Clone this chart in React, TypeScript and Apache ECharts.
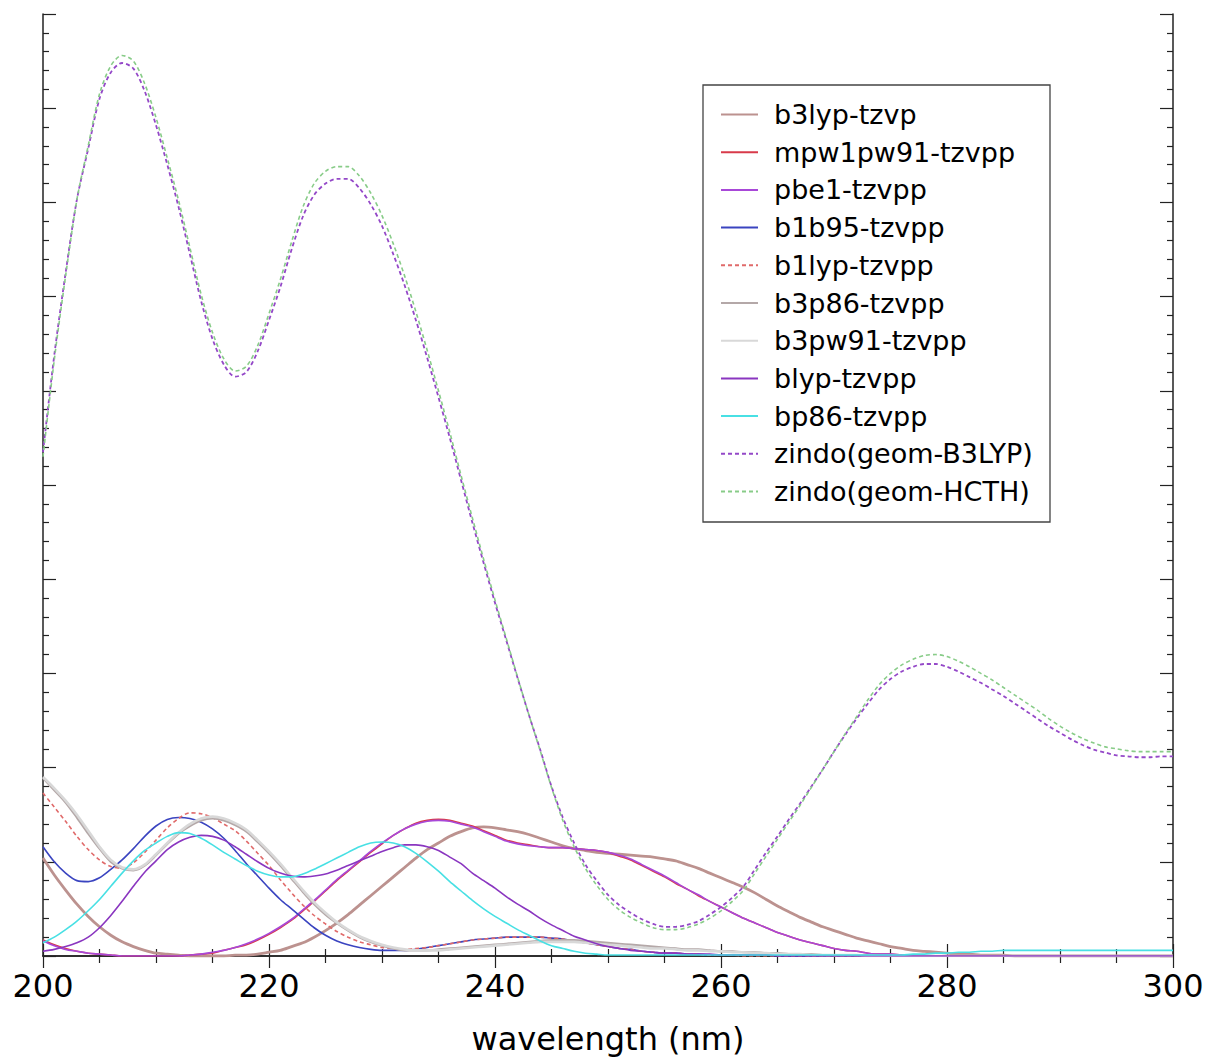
import React, { useEffect, useRef } from "react";
import * as echarts from "echarts";

// wavelength grid (nm), 1 nm step
const wavelengths: number[] = Array.from({ length: 101 }, (_, i) => 200 + i);

const seriesNames = [
  "b3lyp-tzvp",
  "mpw1pw91-tzvpp",
  "pbe1-tzvpp",
  "b1b95-tzvpp",
  "b1lyp-tzvpp",
  "b3p86-tzvpp",
  "b3pw91-tzvpp",
  "blyp-tzvpp",
  "bp86-tzvpp",
  "zindo(geom-B3LYP)",
  "zindo(geom-HCTH)",
];

const b3lypTzvp = [
  1.04, 0.86, 0.7, 0.55, 0.42, 0.31, 0.22, 0.15, 0.1, 0.06,
  0.03, 0.02, 0.01, 0, 0, 0, 0, 0.01, 0.01, 0.02,
  0.04, 0.06, 0.1, 0.14, 0.2, 0.27, 0.35, 0.44, 0.54, 0.64,
  0.74, 0.84, 0.94, 1.04, 1.13, 1.2, 1.27, 1.32, 1.36, 1.37,
  1.36, 1.34, 1.32, 1.29, 1.25, 1.21, 1.17, 1.14, 1.12, 1.1,
  1.09, 1.08, 1.07, 1.06, 1.05, 1.03, 1.01, 0.97, 0.93, 0.88,
  0.83, 0.78, 0.73, 0.67, 0.6, 0.53, 0.47, 0.41, 0.36, 0.31,
  0.27, 0.23, 0.19, 0.16, 0.13, 0.1, 0.08, 0.06, 0.05, 0.04,
  0.03, 0.02, 0.02, 0.01, 0.01, 0.01, 0, 0, 0, 0,
  0, 0, 0, 0, 0, 0, 0, 0, 0, 0,
  0,
];

const mpw1pw91Tzvpp = [
  0.17, 0.12, 0.08, 0.05, 0.03, 0.02, 0.01, 0, 0, 0,
  0, 0, 0, 0.01, 0.02, 0.03, 0.06, 0.09, 0.12, 0.17,
  0.23, 0.3, 0.38, 0.48, 0.58, 0.69, 0.8, 0.9, 1.0, 1.1,
  1.19, 1.28, 1.35, 1.41, 1.44, 1.45, 1.44, 1.41, 1.38, 1.33,
  1.28, 1.23, 1.2, 1.18, 1.16, 1.15, 1.15, 1.14, 1.13, 1.12,
  1.1, 1.06, 1.02, 0.96, 0.9, 0.84, 0.77, 0.71, 0.64, 0.58,
  0.52, 0.46, 0.4, 0.35, 0.3, 0.25, 0.21, 0.17, 0.14, 0.11,
  0.08, 0.06, 0.05, 0.03, 0.02, 0.02, 0.01, 0.01, 0, 0,
  0, 0, 0, 0, 0, 0, 0, 0, 0, 0,
  0, 0, 0, 0, 0, 0, 0, 0, 0, 0,
  0,
];

const pbe1Tzvpp = [
  0.16, 0.11, 0.07, 0.05, 0.03, 0.02, 0.01, 0, 0, 0,
  0, 0, 0, 0.01, 0.02, 0.04, 0.06, 0.09, 0.13, 0.18,
  0.24, 0.31, 0.39, 0.49, 0.59, 0.7, 0.81, 0.91, 1.01, 1.11,
  1.2, 1.28, 1.35, 1.4, 1.43, 1.44, 1.43, 1.4, 1.37, 1.32,
  1.27, 1.22, 1.19, 1.17, 1.16, 1.15, 1.15, 1.14, 1.13, 1.12,
  1.1, 1.07, 1.03, 0.97, 0.91, 0.85, 0.78, 0.71, 0.65, 0.58,
  0.52, 0.46, 0.4, 0.35, 0.3, 0.25, 0.21, 0.17, 0.14, 0.11,
  0.08, 0.06, 0.05, 0.03, 0.02, 0.02, 0.01, 0.01, 0, 0,
  0, 0, 0, 0, 0, 0, 0, 0, 0, 0,
  0, 0, 0, 0, 0, 0, 0, 0, 0, 0,
  0,
];

const b1b95Tzvpp = [
  1.16, 1.0, 0.88, 0.8, 0.79, 0.83, 0.92, 1.02, 1.14, 1.27,
  1.38, 1.45, 1.47, 1.46, 1.42, 1.35, 1.25, 1.12, 0.98, 0.85,
  0.72, 0.6, 0.5, 0.4, 0.3, 0.22, 0.16, 0.12, 0.09, 0.07,
  0.06, 0.06, 0.06, 0.07, 0.09, 0.11, 0.13, 0.15, 0.17, 0.18,
  0.19, 0.2, 0.2, 0.2, 0.2, 0.19, 0.18, 0.16, 0.14, 0.12,
  0.1, 0.08, 0.07, 0.05, 0.04, 0.03, 0.03, 0.02, 0.02, 0.01,
  0.01, 0.01, 0.01, 0.01, 0.01, 0, 0, 0, 0, 0,
  0, 0, 0, 0, 0, 0, 0, 0, 0, 0,
  0, 0, 0, 0, 0, 0, 0, 0, 0, 0,
  0, 0, 0, 0, 0, 0, 0, 0, 0, 0,
  0,
];

const b1lypTzvpp = [
  1.73, 1.58, 1.43, 1.27, 1.13, 1.02, 0.95, 0.93, 0.99, 1.1,
  1.23, 1.36, 1.46, 1.52, 1.51, 1.47, 1.4, 1.33, 1.22, 1.09,
  0.96, 0.81, 0.67, 0.54, 0.43, 0.34, 0.26, 0.2, 0.15, 0.12,
  0.09, 0.08, 0.07, 0.08, 0.09, 0.11, 0.13, 0.15, 0.17, 0.18,
  0.19, 0.2, 0.2, 0.2, 0.2, 0.19, 0.18, 0.16, 0.14, 0.12,
  0.1, 0.08, 0.07, 0.05, 0.04, 0.03, 0.03, 0.02, 0.02, 0.01,
  0.01, 0.01, 0, 0, 0, 0, 0, 0, 0, 0,
  0, 0, 0, 0, 0, 0, 0, 0, 0, 0,
  0, 0, 0, 0, 0, 0, 0, 0, 0, 0,
  0, 0, 0, 0, 0, 0, 0, 0, 0, 0,
  0,
];

const b3p86Tzvpp = [
  1.89, 1.76, 1.63, 1.47, 1.3, 1.14, 1.0, 0.93, 0.91, 0.96,
  1.07, 1.19, 1.3, 1.38, 1.44, 1.46, 1.44, 1.39, 1.32, 1.21,
  1.09, 0.96, 0.82, 0.68, 0.55, 0.44, 0.35, 0.27, 0.2, 0.15,
  0.11, 0.08, 0.06, 0.06, 0.06, 0.07, 0.08, 0.09, 0.1, 0.11,
  0.12, 0.13, 0.14, 0.15, 0.16, 0.17, 0.17, 0.17, 0.16, 0.15,
  0.14, 0.13, 0.12, 0.11, 0.1, 0.09, 0.08, 0.07, 0.07, 0.06,
  0.05, 0.05, 0.04, 0.04, 0.03, 0.03, 0.02, 0.02, 0.02, 0.01,
  0.01, 0.01, 0.01, 0.01, 0, 0, 0, 0, 0, 0,
  0, 0, 0, 0, 0, 0, 0, 0, 0, 0,
  0, 0, 0, 0, 0, 0, 0, 0, 0, 0,
  0,
];

const b3pw91Tzvpp = [
  1.9, 1.78, 1.65, 1.5, 1.33, 1.16, 1.02, 0.94, 0.92, 0.97,
  1.08, 1.2, 1.31, 1.4, 1.46, 1.48, 1.46, 1.41, 1.34, 1.23,
  1.11, 0.98, 0.84, 0.7, 0.57, 0.46, 0.36, 0.28, 0.21, 0.16,
  0.12, 0.09, 0.07, 0.06, 0.06, 0.06, 0.07, 0.08, 0.09, 0.1,
  0.11, 0.12, 0.13, 0.14, 0.15, 0.15, 0.15, 0.15, 0.14, 0.13,
  0.12, 0.11, 0.1, 0.09, 0.08, 0.08, 0.07, 0.06, 0.06, 0.05,
  0.05, 0.04, 0.04, 0.03, 0.03, 0.02, 0.02, 0.02, 0.01, 0.01,
  0.01, 0.01, 0.01, 0, 0, 0, 0, 0, 0, 0,
  0, 0, 0, 0, 0, 0, 0, 0, 0, 0,
  0, 0, 0, 0, 0, 0, 0, 0, 0, 0,
  0,
];

const blypTzvpp = [
  0.05, 0.07, 0.1, 0.14, 0.2, 0.3, 0.43, 0.58, 0.74, 0.89,
  1.01, 1.13, 1.21, 1.26, 1.28, 1.27, 1.23, 1.16, 1.08, 1.0,
  0.93, 0.88, 0.85, 0.84, 0.85, 0.87, 0.91, 0.96, 1.01, 1.06,
  1.11, 1.15, 1.18, 1.18, 1.16, 1.12, 1.05, 0.98, 0.88, 0.8,
  0.72, 0.63, 0.55, 0.48, 0.4, 0.33, 0.27, 0.21, 0.17, 0.13,
  0.1, 0.08, 0.06, 0.05, 0.04, 0.03, 0.03, 0.02, 0.02, 0.02,
  0.01, 0.01, 0.01, 0.01, 0.01, 0, 0, 0, 0, 0,
  0, 0, 0, 0, 0, 0, 0, 0, 0, 0,
  0, 0, 0, 0, 0, 0, 0, 0, 0, 0,
  0, 0, 0, 0, 0, 0, 0, 0, 0, 0,
  0,
];

const bp86Tzvpp = [
  0.14, 0.2, 0.28, 0.37, 0.48, 0.6, 0.74, 0.88, 1.01, 1.12,
  1.2, 1.27, 1.31, 1.3, 1.25, 1.18, 1.1, 1.03, 0.96, 0.9,
  0.86, 0.84, 0.84, 0.87, 0.92, 0.98, 1.04, 1.1, 1.16, 1.2,
  1.21, 1.2, 1.16, 1.09, 1.0, 0.9, 0.79, 0.69, 0.59, 0.5,
  0.42, 0.35, 0.28, 0.22, 0.16, 0.11, 0.08, 0.05, 0.03, 0.02,
  0.01, 0.01, 0.01, 0.01, 0.01, 0.01, 0.01, 0.01, 0.01, 0.01,
  0.01, 0.01, 0.01, 0.01, 0.01, 0.01, 0.01, 0.01, 0.01, 0.01,
  0.01, 0.01, 0.01, 0.01, 0.01, 0.01, 0.01, 0.02, 0.02, 0.03,
  0.03, 0.04, 0.04, 0.05, 0.05, 0.06, 0.06, 0.06, 0.06, 0.06,
  0.06, 0.06, 0.06, 0.06, 0.06, 0.06, 0.06, 0.06, 0.06, 0.06,
  0.06,
];

const zindoB3lyp = [
  5.35, 6.38, 7.25, 8.03, 8.57, 9.1, 9.38, 9.48, 9.42, 9.18,
  8.82, 8.4, 7.95, 7.45, 6.95, 6.55, 6.28, 6.15, 6.2, 6.42,
  6.75, 7.1, 7.5, 7.85, 8.08, 8.2, 8.25, 8.25, 8.15, 7.98,
  7.75, 7.45, 7.12, 6.75, 6.35, 5.93, 5.5, 5.05, 4.6, 4.17,
  3.75, 3.35, 2.95, 2.56, 2.19, 1.8, 1.47, 1.2, 0.97, 0.8,
  0.65, 0.54, 0.46, 0.39, 0.34, 0.31, 0.31, 0.33, 0.37, 0.44,
  0.52, 0.62, 0.74, 0.92, 1.1, 1.27, 1.45, 1.62, 1.8, 1.98,
  2.17, 2.35, 2.52, 2.68, 2.83, 2.94, 3.02, 3.07, 3.1, 3.1,
  3.07, 3.02, 2.96, 2.9, 2.83, 2.76, 2.68, 2.6, 2.52, 2.44,
  2.37, 2.3, 2.24, 2.19, 2.16, 2.13, 2.12, 2.11, 2.11, 2.12,
  2.12,
];

const zindoHcth = [
  5.3, 6.33, 7.22, 8.03, 8.6, 9.15, 9.45, 9.56, 9.5, 9.26,
  8.9, 8.47, 8.02, 7.52, 7.02, 6.62, 6.34, 6.21, 6.26, 6.48,
  6.82, 7.18, 7.58, 7.95, 8.2, 8.33, 8.38, 8.38, 8.28, 8.1,
  7.86, 7.56, 7.22, 6.84, 6.43, 6.0, 5.56, 5.1, 4.65, 4.21,
  3.78, 3.37, 2.96, 2.56, 2.18, 1.79, 1.44, 1.16, 0.93, 0.75,
  0.6, 0.49, 0.41, 0.35, 0.3, 0.28, 0.28, 0.3, 0.34, 0.4,
  0.48, 0.58, 0.7, 0.88, 1.06, 1.24, 1.42, 1.6, 1.79, 1.98,
  2.17, 2.36, 2.54, 2.72, 2.88, 3.0, 3.09, 3.15, 3.19, 3.2,
  3.18, 3.13, 3.07, 3.0, 2.93, 2.85, 2.77, 2.69, 2.61, 2.52,
  2.44, 2.37, 2.31, 2.26, 2.22, 2.2, 2.18, 2.17, 2.17, 2.17,
  2.17,
];

const xTicks = [200, 220, 240, 260, 280, 300];

const seriesValues = [
  b3lypTzvp,
  mpw1pw91Tzvpp,
  pbe1Tzvpp,
  b1b95Tzvpp,
  b1lypTzvpp,
  b3p86Tzvpp,
  b3pw91Tzvpp,
  blypTzvpp,
  bp86Tzvpp,
  zindoB3lyp,
  zindoHcth,
];

const seriesStyles = [
  { color: "#bc928f", width: 2.8, type: "solid" },
  { color: "#d83a4a", width: 1.6, type: "solid" },
  { color: "#a848d8", width: 1.6, type: "solid" },
  { color: "#3a44c0", width: 1.6, type: "solid" },
  { color: "#e06a6a", width: 1.6, type: [4, 3] },
  { color: "#b4a8a8", width: 2.2, type: "solid" },
  { color: "#d8d8d8", width: 2.6, type: "solid" },
  { color: "#8a36c0", width: 1.6, type: "solid" },
  { color: "#48e0e4", width: 1.6, type: "solid" },
  { color: "#9448c8", width: 1.8, type: [4, 3] },
  { color: "#88cc88", width: 1.6, type: [4, 3] },
];

const FONT = "DejaVu Sans";

export default function App() {
  const ref = useRef<HTMLDivElement>(null);
  useEffect(() => {
    if (!ref.current) return;
    const chart = echarts.init(ref.current, undefined, { renderer: "svg" });
    const axisLineStyle = { color: "#222", width: 1.5 };
    const tickStyle = { color: "#222", width: 1.2 };
    const series = seriesNames.map((name, i) => ({
      name,
      type: "line",
      data: wavelengths.map((w, j) => [w, seriesValues[i][j]]),
      showSymbol: false,
      symbol: "none",
      smooth: 0.3,
      clip: true,
      z: i >= 9 ? 3 : 2,
      lineStyle: {
        color: seriesStyles[i].color,
        width: seriesStyles[i].width,
        type: seriesStyles[i].type as any,
      },
      itemStyle: { color: seriesStyles[i].color },
    }));
    const option: any = {
      animation: false,
      backgroundColor: "#fff",
      grid: { left: 43, right: 35, top: 14, bottom: 105, containLabel: false },
      xAxis: [
        {
          type: "value",
          min: xTicks[0],
          max: xTicks[xTicks.length - 1],
          interval: 20,
          position: "bottom",
          name: "wavelength (nm)",
          nameLocation: "middle",
          nameGap: 67,
          nameTextStyle: { fontFamily: FONT, fontSize: 32, color: "#000" },
          axisLine: { show: true, lineStyle: axisLineStyle },
          axisTick: { show: true, inside: true, length: 12, lineStyle: tickStyle },
          minorTick: { show: true, splitNumber: 4, length: 7, lineStyle: tickStyle },
          axisLabel: { fontFamily: FONT, fontSize: 32, color: "#000", margin: 14 },
          splitLine: { show: false },
        },
        {
          type: "value",
          min: xTicks[0],
          max: xTicks[xTicks.length - 1],
          interval: 20,
          position: "top",
          axisLine: { show: true, lineStyle: axisLineStyle },
          axisTick: { show: true, inside: true, length: 12, lineStyle: tickStyle },
          minorTick: { show: true, splitNumber: 4, length: 7, lineStyle: tickStyle },
          axisLabel: { show: false },
          splitLine: { show: false },
        },
      ],
      yAxis: [
        {
          type: "value",
          min: 0,
          max: 10,
          interval: 1,
          position: "left",
          axisLine: { show: true, lineStyle: axisLineStyle },
          axisTick: { show: true, inside: true, length: 13, lineStyle: tickStyle },
          minorTick: { show: true, splitNumber: 5, length: 6, lineStyle: tickStyle },
          axisLabel: { show: false },
          splitLine: { show: false },
        },
        {
          type: "value",
          min: 0,
          max: 10,
          interval: 1,
          position: "right",
          axisLine: { show: true, lineStyle: axisLineStyle },
          axisTick: { show: true, inside: true, length: 13, lineStyle: tickStyle },
          minorTick: { show: true, splitNumber: 5, length: 6, lineStyle: tickStyle },
          axisLabel: { show: false },
          splitLine: { show: false },
        },
      ],
      legend: {
        orient: "vertical",
        left: 720,
        top: 101,
        padding: 0,
        itemWidth: 37,
        itemHeight: 14,
        itemGap: 10.7,
        selectedMode: false,
        data: seriesNames,
        itemStyle: { opacity: 0, borderWidth: 0 },
        textStyle: {
          fontFamily: FONT,
          fontSize: 27,
          color: "#000",
          lineHeight: 27,
          padding: [0, 0, 0, 11],
        },
      },
      graphic: [
        {
          type: "rect",
          silent: true,
          z: 5,
          shape: { x: 703, y: 85, width: 347, height: 437 },
          style: { fill: "none", stroke: "#444", lineWidth: 1.3 },
        },
      ],
      series,
    };
    chart.setOption(option);
    return () => chart.dispose();
  }, []);
  return (
    <div
      ref={ref}
      style={{ position: "absolute", left: 0, top: 0, width: 1208, height: 1061, background: "#fff" }}
    />
  );
}
